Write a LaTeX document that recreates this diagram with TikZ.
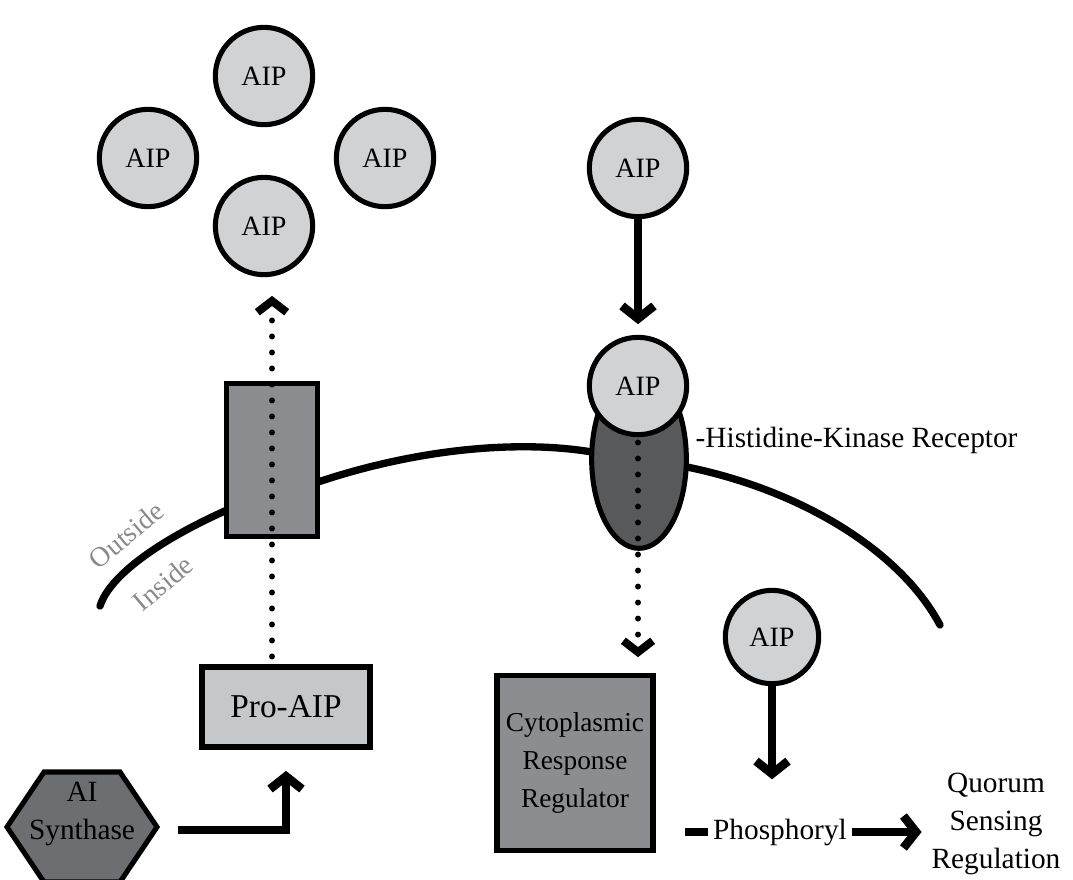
\documentclass[tikz,border=0pt]{standalone}
\usepackage{fontspec}
\setmainfont{Liberation Serif}
\usetikzlibrary{positioning}
\usetikzlibrary{arrows.meta}
\usetikzlibrary{shapes.geometric}
\definecolor{aipgray}{HTML}{D1D2D4}
\definecolor{progray}{HTML}{C6C7C9}
\definecolor{boxgray}{HTML}{8C8D90}
\definecolor{recgray}{HTML}{58595B}
\definecolor{syngray}{HTML}{6D6E71}
\definecolor{sidegray}{HTML}{8A8A8A}

\begin{document}
\begin{tikzpicture}[x=0.75pt,y=-0.75pt]
\tikzstyle{txt}=[font=\fontsize{22}{28.5}\selectfont,align=center]
\tikzstyle{aip}=[circle,draw,line width=3.8pt,fill=aipgray,minimum size=73pt,inner sep=0pt,font=\fontsize{21}{24}\selectfont]
\tikzstyle{box}=[rectangle,draw,line width=3.8pt,inner sep=0pt,align=center,font=\fontsize{20.5}{28.5}\selectfont]
\tikzstyle{flow}=[line width=5.5pt,-{Straight Barb[length=9.5pt,width=24pt,line width'=6.5pt]}]
\tikzstyle{dots}=[line width=4.5pt,line cap=round,dash pattern=on 0pt off 12pt,-{Straight Barb[length=8.5pt,width=22pt,line width'=6pt]}]
\tikzstyle{side}=[font=\fontsize{21}{24}\selectfont,text=sidegray,rotate=40,inner sep=0pt]
\useasboundingbox (0,0) rectangle (1073,879);

% cell membrane
\draw[line width=5.5pt,line cap=round] (100,606) .. controls (110,575) and (160,540) .. (227,510) -- (318,482)
  .. controls (420,448) and (520,440) .. (592,452) -- (687,467) .. controls (800,490) and (900,550) .. (940,625);
\node[side] (outside) at (126,535) {Outside};
\node[side] (inside) at (163,583) {Inside};

% released autoinducers
\node[aip] (a1) at (264,76) {AIP};
\node[aip] (a2) at (148,158) {AIP};
\node[aip] (a3) at (385,158) {AIP};
\node[aip] (a4) at (264,226) {AIP};

% export side
\node[box,fill=boxgray,minimum width=68pt,minimum height=115pt] (tp) at (272,460) {};
\node[box,fill=progray,minimum width=126pt,minimum height=60pt,font=\fontsize{25}{30}\selectfont] (pro) at (286,707) {Pro-AIP};
\draw[line width=3.8pt,fill=syngray] (7,827) -- (44,772) -- (120,772) -- (157,827) -- (120,882) -- (44,882) -- cycle;
\node[txt] (syn) at (82,814) {AI\\Synthase};
\coordinate (synout) at (178,830);

% receptor side
\node[aip] (a5) at (638,168) {AIP};
\node[ellipse,draw,line width=3.8pt,fill=recgray,minimum width=71pt,minimum height=134pt,inner sep=0pt] (rec) at (639,459) {};
\node[aip] (a6) at (638,386) {AIP};
\node[txt,anchor=west] (hkr) at (691,440) {-Histidine-Kinase Receptor};
\node[box,fill=boxgray,minimum width=117pt,minimum height=131pt] (crr) at (575,763) {Cytoplasmic\\Response\\Regulator};
\node[aip,minimum size=70pt] (a7) at (772,637) {AIP};
\node[txt] (phos) at (780,832) {Phosphoryl};
\node[txt] (qsr) at (996,824) {Quorum\\Sensing\\Regulation};

% connectors
\draw[dots,shorten <=6pt,shorten >=14pt] (tp.center |- pro.north) -- (tp.center |- a4.south);
\draw[flow,shorten >=16pt] (synout) -| (pro.south);
\draw[flow,shorten >=8pt] (a5.south) -- (a6.north);
\draw[dots,shorten <=4pt,shorten >=12pt] (a6.south) -- (a6.south |- crr.north);
\draw[flow,shorten >=26pt] (a7.south) -- (a7.south |- phos.north);
\draw[line width=5.5pt,shorten <=22pt] (crr.east |- phos) -- (phos.west);
\draw[flow,shorten >=4pt] (phos.east) -- (qsr.west |- phos);
\end{tikzpicture}
\end{document}
